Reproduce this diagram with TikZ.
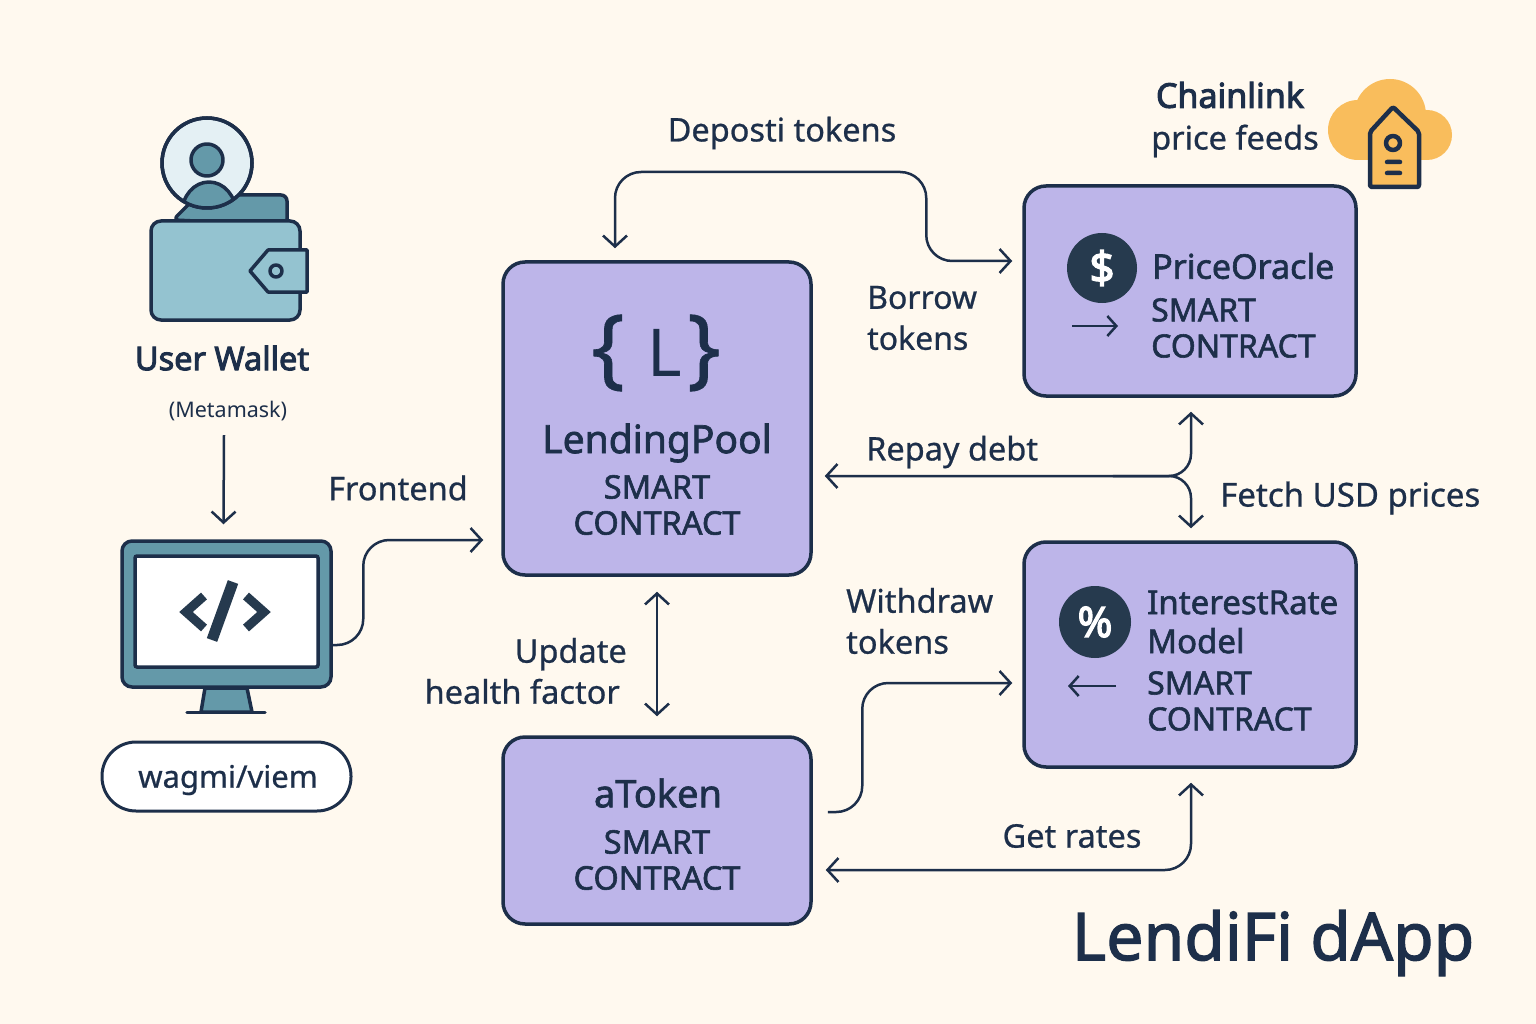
\documentclass[tikz,border=0pt]{standalone}
\usepackage{fontspec}
\setmainfont{Noto Sans}
\newfontfamily\medfont[FakeBold=1.8]{Noto Sans}
\newfontfamily\lblfont[FakeBold=0.7]{Noto Sans}
\newfontfamily\boldfont[FakeBold=3]{Noto Sans}
\usetikzlibrary{calc,arrows.meta}
\definecolor{paper}{HTML}{FFF9EF}
\definecolor{ink}{HTML}{1D2F4A}
\definecolor{lilac}{HTML}{BDB5E9}
\definecolor{teal}{HTML}{94C3D0}
\definecolor{deepteal}{HTML}{6499A9}
\definecolor{pale}{HTML}{E4F0F4}
\definecolor{amber}{HTML}{F9BD5C}
\definecolor{badge}{HTML}{263A4E}
\tikzset{
    box/.style={draw=ink,fill=lilac,line width=3.5pt,rounded corners=22,inner sep=0pt},
    flow/.style={draw=ink,line width=2.5pt,rounded corners=26,>={Straight Barb[length=11pt,width=24pt,line width=2.5pt]}},
    icon/.style={draw=ink,line width=3.5pt,line join=round,line cap=round},
    lbl/.style={text=ink,inner sep=0pt,font=\lblfont\fontsize{32.5}{41}\selectfont},
    head/.style={text=ink,inner sep=0pt,font=\medfont\fontsize{34}{39}\selectfont},
    sub/.style={text=ink,inner sep=0pt,font=\medfont\fontsize{32}{36}\selectfont},
}
\begin{document}
\begin{tikzpicture}[x=1pt,y=-1pt]
    \useasboundingbox[fill=paper] (0,0) rectangle (1536,1024);
    \node (pool) at (657,418.5) [box,minimum width=308,minimum height=313] {};
    \node (atoken) at (657,830.5) [box,minimum width=308,minimum height=187] {};
    \node (oracle) at (1190,291) [box,minimum width=332,minimum height=210] {};
    \node (irm) at (1190,654.5) [box,minimum width=332,minimum height=225] {};
    \node (monitor) at (226.5,614) [draw=ink,fill=deepteal,line width=3.5pt,rounded corners=10,inner sep=0pt,minimum width=209,minimum height=146] {};
    \node (screen) at (226.5,611.5) [draw=ink,fill=white,line width=3.5pt,rounded corners=2,inner sep=0pt,minimum width=183,minimum height=111] {};
    \node (pill) at (226.5,776.5) [draw=ink,fill=white,line width=3pt,rounded corners=34,inner sep=0pt,minimum width=249,minimum height=69] {};
    \node (wagmi) at (228,780) [lbl,font=\lblfont\fontsize{31}{36}\selectfont] {wagmi/viem};
    \filldraw[icon,fill=deepteal] (205,688) -- (247,688) -- (252,712) -- (201,712) -- cycle;
    \draw[icon] (187,712.5) -- (265,712.5);
    \draw[badge,line width=9pt,line join=miter] (204,596) -- (186,612) -- (204,628);
    \draw[badge,line width=9pt,line join=miter] (246,596) -- (264,612) -- (246,628);
    \draw[badge,line width=11pt] (233,582) -- (212,640);
    \filldraw[icon,fill=deepteal] (173,220) -- (198,195) [rounded corners=6] -- (287,195) -- (287,225) -- cycle;
    \filldraw[icon,fill=pale] (207,163) circle[radius=45];
    \begin{scope}
        \clip (207,163) circle[radius=45];
        \filldraw[icon,fill=deepteal] (209,213) ellipse[x radius=27,y radius=31];
    \end{scope}
    \draw[icon] (207,163) circle[radius=45];
    \filldraw[icon,fill=deepteal] (207,160) circle[radius=16];
    \node (wallet) at (225.5,270.5) [draw=ink,fill=teal,line width=3.5pt,rounded corners=10,inner sep=0pt,minimum width=149,minimum height=99] {};
    \filldraw[icon,fill=teal] (250,271) -- (268,250) -- (307,250) -- (307,292) -- (268,292) -- cycle;
    \filldraw[icon,fill=teal] (276,271) circle[radius=6];
    \fill[amber] (1390,115) circle[radius=36];
    \fill[amber] (1358,130) circle[radius=30];
    \fill[amber] (1427,135) circle[radius=25];
    \fill[amber] (1358,125) rectangle (1427,160);
    \filldraw[icon,fill=amber,line width=4.5pt,rounded corners=2] (1393,107) -- (1370,132) -- (1370,187) -- (1419,187) -- (1419,132) -- cycle;
    \draw[icon,line width=4.5pt] (1393,143) circle[radius=7] (1387,162) -- (1400,162) (1387,173) -- (1400,173);
    \node (dollar) at (1102,268) [circle,fill=badge,minimum size=70,inner sep=0pt,text=white,font=\boldfont\fontsize{44}{44}\selectfont] {\$};
    \node (percent) at (1095,622) [circle,fill=badge,minimum size=72,inner sep=0pt,text=white,font=\boldfont\fontsize{42}{44}\selectfont] {\%};
    \draw[flow,->,>={Straight Barb[length=9pt,width=20pt,line width=2.5pt]}] (1072,326) -- (1118,326);
    \draw[flow,->,>={Straight Barb[length=9pt,width=20pt,line width=2.5pt]}] (1116,686) -- (1068,686);
    \node (braceleft) at (608,353) [text=ink,inner sep=0pt,font=\lblfont\fontsize{88}{90}\selectfont] {\{};
    \node (ell) at (665,353) [text=ink,inner sep=0pt,font=\fontsize{66}{70}\selectfont] {L};
    \node (braceright) at (704,353) [text=ink,inner sep=0pt,font=\lblfont\fontsize{88}{90}\selectfont] {\}};
    \node (pooltitle) at (657,443) [head,font=\medfont\fontsize{39}{42}\selectfont] {LendingPool};
    \node (poolsub) at (657,505) [sub,font=\medfont\fontsize{32.5}{36}\selectfont,align=center] {SMART\\CONTRACT};
    \node (atokentitle) at (658,793) [head,font=\medfont\fontsize{38}{42}\selectfont] {aToken};
    \node (atokensub) at (657,860) [sub,font=\medfont\fontsize{32.5}{36}\selectfont,align=center] {SMART\\CONTRACT};
    \node (oracletitle) at (1152,266) [head,anchor=west] {PriceOracle};
    \node (oraclesub) at (1151,328) [sub,align=left,anchor=west] {SMART\\CONTRACT};
    \node (irmtitle) at (1147,622) [head,font=\medfont\fontsize{33}{39}\selectfont,align=left,anchor=west] {InterestRate\\Model};
    \node (irmsub) at (1147,701) [sub,align=left,anchor=west] {SMART\\CONTRACT};
    \node (userwallet) at (222,358) [text=ink,inner sep=0pt,font=\boldfont\fontsize{32.5}{36}\selectfont] {User Wallet};
    \node (metamask) at (228,411) [text=ink,inner sep=0pt,font=\fontsize{21.5}{24}\selectfont] {(Metamask)};
    \node (chainlink) at (1230,95) [head,font=\boldfont\fontsize{34}{39}\selectfont] {Chainlink};
    \node (feeds) at (1235,141) [lbl] {price feeds};
    \node (deposit) at (782,133) [lbl] {Deposti tokens};
    \node (borrow) at (867,318) [lbl,font=\lblfont\fontsize{32}{41}\selectfont,align=left,anchor=west] {Borrow\\tokens};
    \node (repay) at (866,452) [lbl,anchor=west] {Repay debt};
    \node (fetch) at (1220,498) [lbl,font=\lblfont\fontsize{33}{41}\selectfont,anchor=west] {Fetch USD prices};
    \node (frontend) at (328,488) [lbl,anchor=west] {Frontend};
    \node (update) at (627,671) [lbl,align=right,anchor=east] {Update\\health factor\hspace*{7pt}};
    \node (withdraw) at (846,621) [lbl,align=left,anchor=west] {Withdraw\\tokens};
    \node (rates) at (1072,836) [lbl] {Get rates};
    \node (dapp) at (1273,943) [text=ink,inner sep=0pt,font=\medfont\fontsize{66}{70}\selectfont] {LendiFi dApp};
    \coordinate (poolin) at ($(pool.west)+(-18,121.5)$);
    \coordinate (pooltop) at ($(pool.north)+(-42,-12)$);
    \coordinate (oraclein) at ($(oracle.west)+(-10,-30)$);
    \coordinate (irmin) at ($(irm.west)+(-10,28.5)$);
    \draw[flow,->] ($(metamask.south)+(-4,14)$) -- ($(monitor.north)+(-3,-15)$);
    \draw[flow,->] ($(monitor.east)+(0,31)$) -| ($(poolin)+(-120,0)$) -- (poolin);
    \draw[flow,<->] (pooltop) |- ($(oraclein)+(-86,-89)$) -- ($(oraclein)+(-86,0)$) -- (oraclein);
    \draw[flow,<->,rounded corners=22] ($(pool.east)+(12,57.5)$) -| ($(oracle.south)+(1,14)$);
    \draw[flow,->,rounded corners=22] ($(pool.east)+(300,57.5)$) -| ($(irm.north)+(1,-12)$);
    \draw[flow,<->] ($(pool.south)+(0,15)$) -- ($(atoken.north)+(0,-19)$);
    \draw[flow,->] ($(atoken.east)+(15,-18.5)$) -| ($(irmin)+(-150,0)$) -- (irmin);
    \draw[flow,<->] ($(atoken.east)+(13,39.5)$) -| ($(irm.south)+(1,14)$);
\end{tikzpicture}
\end{document}
